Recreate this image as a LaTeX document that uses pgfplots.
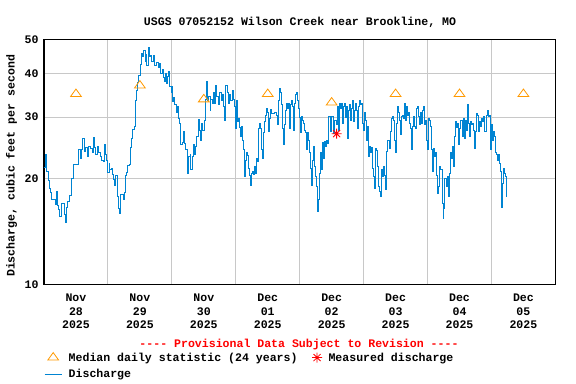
\documentclass[border=0pt]{standalone}
\usepackage{fontspec}
\setmainfont{Liberation Mono}
\setmonofont{Liberation Mono}
\usepackage{pgfplots}
\pgfplotsset{compat=1.18}
\definecolor{usgsblue}{RGB}{0,132,210}
\definecolor{usgsorange}{RGB}{255,153,0}
\definecolor{gridgray}{RGB}{200,200,200}
\newcommand{\cf}{\fontsize{11.6}{13.5}\selectfont\ttfamily\bfseries}
\pgfdeclareplotmark{star8}{%
  \pgfpathmoveto{\pgfqpoint{-\pgfplotmarksize}{0pt}}\pgfpathlineto{\pgfqpoint{\pgfplotmarksize}{0pt}}%
  \pgfpathmoveto{\pgfqpoint{0pt}{-\pgfplotmarksize}}\pgfpathlineto{\pgfqpoint{0pt}{\pgfplotmarksize}}%
  \pgfpathmoveto{\pgfqpoint{-0.707\pgfplotmarksize}{-0.707\pgfplotmarksize}}\pgfpathlineto{\pgfqpoint{0.707\pgfplotmarksize}{0.707\pgfplotmarksize}}%
  \pgfpathmoveto{\pgfqpoint{-0.707\pgfplotmarksize}{0.707\pgfplotmarksize}}\pgfpathlineto{\pgfqpoint{0.707\pgfplotmarksize}{-0.707\pgfplotmarksize}}%
  \pgfusepathqstroke}
\pgfplotstableread{
day q
0.000 21.5
0.016 21.7
0.031 23.4
0.042 21.0
0.063 20.7
0.078 19.8
0.089 18.8
0.109 18.3
0.125 17.5
0.161 17.5
0.177 16.9
0.198 18.4
0.214 16.8
0.230 16.3
0.250 15.6
0.271 17.0
0.292 17.0
0.313 15.8
0.334 15.0
0.354 16.6
0.375 17.2
0.401 17.9
0.427 18.0
0.438 20.1
0.454 22.0
0.521 22.0
0.532 24.3
0.552 24.2
0.574 22.9
0.594 24.2
0.605 26.1
0.626 23.9
0.652 24.6
0.673 23.2
0.693 24.8
0.730 24.4
0.751 23.7
0.771 26.3
0.793 24.6
0.813 23.4
0.834 24.8
0.855 23.8
0.881 23.2
0.907 22.6
0.928 22.4
0.944 25.0
0.965 23.4
0.985 22.6
1.001 20.8
1.017 22.1
1.032 21.2
1.053 21.4
1.068 20.6
1.084 19.9
1.100 19.2
1.121 20.5
1.142 19.1
1.157 17.8
1.168 16.5
1.178 15.9
1.194 18.0
1.231 18.0
1.251 17.5
1.267 18.3
1.278 20.5
1.298 20.8
1.314 21.8
1.340 21.9
1.356 24.6
1.372 26.1
1.387 27.7
1.413 28.2
1.428 33.4
1.444 35.8
1.460 37.7
1.475 39.3
1.502 39.5
1.517 42.5
1.528 45.4
1.544 44.6
1.560 46.3
1.580 43.3
1.596 45.1
1.611 42.0
1.632 45.6
1.642 47.4
1.653 44.6
1.663 44.9
1.684 43.3
1.710 44.9
1.736 42.0
1.763 43.0
1.788 41.6
1.810 42.7
1.830 40.0
1.851 40.9
1.866 39.0
1.882 37.9
1.897 40.0
1.913 37.3
1.935 39.1
1.950 40.4
1.966 36.6
1.991 35.2
2.007 36.6
2.018 33.2
2.033 34.1
2.049 32.5
2.070 31.0
2.085 32.1
2.101 29.8
2.117 28.7
2.132 26.4
2.143 25.0
2.164 25.3
2.185 27.3
2.201 25.2
2.221 24.2
2.242 23.4
2.252 20.7
2.268 23.2
2.284 23.4
2.299 21.2
2.320 23.2
2.336 25.0
2.357 23.4
2.372 24.7
2.393 26.4
2.414 29.6
2.429 27.4
2.445 25.8
2.466 28.8
2.487 27.4
2.503 29.4
2.523 33.6
2.545 37.9
2.561 33.4
2.581 34.4
2.597 31.4
2.612 33.6
2.633 32.9
2.649 35.2
2.670 32.9
2.690 37.0
2.706 34.4
2.727 32.5
2.748 35.2
2.769 33.4
2.789 34.7
2.811 32.1
2.831 29.3
2.847 37.0
2.863 35.2
2.883 32.9
2.905 34.7
2.925 33.4
2.941 35.8
2.961 33.6
2.977 32.1
2.992 27.9
3.008 33.4
3.024 29.1
3.039 29.8
3.061 28.1
3.077 26.4
3.092 28.2
3.108 25.8
3.124 24.2
3.139 20.3
3.149 22.6
3.165 23.7
3.180 23.3
3.202 21.4
3.222 20.5
3.233 19.2
3.249 20.7
3.269 21.0
3.285 20.6
3.296 21.7
3.311 20.7
3.327 22.9
3.343 22.4
3.358 27.9
3.374 28.8
3.390 27.9
3.405 24.2
3.415 22.8
3.431 27.1
3.446 29.1
3.462 30.4
3.477 31.8
3.493 30.9
3.509 27.2
3.524 29.8
3.546 31.6
3.561 30.8
3.613 31.0
3.639 30.4
3.655 28.5
3.671 33.4
3.681 36.2
3.696 35.2
3.712 32.5
3.728 27.9
3.743 25.0
3.759 28.5
3.774 31.4
3.790 32.9
3.806 31.8
3.821 32.9
3.837 27.9
3.853 32.5
3.868 33.4
3.884 32.1
3.900 27.5
3.915 32.9
3.931 34.7
3.947 35.2
3.962 33.4
3.978 31.8
3.993 30.0
4.009 27.1
4.025 30.1
4.040 29.4
4.056 28.8
4.072 27.5
4.087 27.1
4.103 24.2
4.119 27.1
4.134 25.8
4.150 23.7
4.166 21.4
4.181 20.7
4.192 19.2
4.208 22.6
4.223 24.7
4.239 21.7
4.255 20.3
4.270 19.0
4.286 16.1
4.297 17.4
4.312 20.7
4.328 23.7
4.344 21.2
4.359 25.3
4.375 22.9
4.391 25.6
4.406 24.7
4.422 25.8
4.438 25.2
4.453 30.1
4.474 30.1
4.489 27.3
4.505 30.1
4.521 28.2
4.536 26.9
4.552 29.4
4.568 28.5
4.588 32.1
4.604 27.5
4.619 32.9
4.641 31.8
4.657 32.9
4.672 28.8
4.688 32.1
4.704 32.9
4.719 30.0
4.735 32.1
4.751 26.1
4.766 31.4
4.782 32.5
4.797 29.4
4.813 31.8
4.829 33.4
4.844 29.1
4.860 31.4
4.876 32.9
4.891 31.4
4.907 27.9
4.923 32.1
4.938 33.4
4.948 32.5
4.969 32.9
4.979 28.8
5.001 27.5
5.021 31.0
5.037 29.4
5.052 25.8
5.063 28.2
5.079 23.2
5.095 24.7
5.110 23.7
5.126 24.6
5.142 21.4
5.157 20.3
5.167 18.8
5.183 24.4
5.198 24.1
5.214 21.7
5.230 19.0
5.245 18.4
5.261 17.8
5.276 21.2
5.292 20.3
5.308 21.7
5.323 20.5
5.339 18.6
5.355 23.9
5.370 25.8
5.386 25.8
5.402 24.4
5.417 27.3
5.433 29.8
5.454 30.1
5.470 29.4
5.486 25.8
5.501 23.7
5.517 28.8
5.533 32.1
5.548 31.0
5.564 29.4
5.580 26.7
5.595 30.1
5.611 30.4
5.627 29.8
5.642 32.9
5.658 29.4
5.674 32.1
5.689 30.4
5.705 31.0
5.720 28.8
5.736 27.9
5.752 24.2
5.767 28.2
5.783 30.1
5.799 28.2
5.814 27.9
5.830 31.8
5.846 32.1
5.861 30.1
5.877 28.5
5.893 31.0
5.908 28.8
5.924 31.4
5.940 32.1
5.955 28.5
5.971 29.4
5.981 25.8
5.997 24.2
6.012 29.8
6.028 29.4
6.043 28.2
6.059 24.2
6.075 21.0
6.090 24.4
6.106 23.2
6.121 23.7
6.137 20.5
6.153 18.2
6.168 19.0
6.184 21.7
6.199 21.2
6.215 21.2
6.230 17.0
6.246 15.4
6.257 16.5
6.272 20.1
6.288 20.1
6.304 19.0
6.319 20.3
6.335 17.8
6.351 20.7
6.366 23.7
6.382 22.9
6.398 24.7
6.413 21.7
6.429 26.4
6.444 29.1
6.460 28.1
6.476 28.8
6.491 25.0
6.507 27.9
6.523 29.4
6.538 29.4
6.554 26.4
6.570 29.8
6.585 26.1
6.596 29.4
6.612 27.5
6.628 32.5
6.643 28.8
6.659 26.4
6.675 29.1
6.690 28.5
6.706 28.8
6.721 27.5
6.737 24.4
6.753 27.3
6.768 30.8
6.784 30.4
6.800 27.3
6.815 29.1
6.831 28.2
6.846 29.8
6.862 29.1
6.878 30.1
6.893 27.3
6.909 27.3
6.925 30.4
6.940 31.4
6.956 30.1
6.972 30.4
6.987 24.2
7.003 28.5
7.019 25.8
7.034 27.3
7.050 26.4
7.066 23.7
7.081 23.4
7.097 22.6
7.112 23.4
7.128 22.1
7.144 21.0
7.154 19.0
7.164 16.6
7.175 19.4
7.191 21.4
7.206 20.7
7.222 20.3
7.238 17.8
}\discharge
\begin{document}
\begin{tikzpicture}
\useasboundingbox (0,0) rectangle (576bp,384bp);
\begin{axis}[
  at={(44bp,99.7bp)}, anchor=south west,
  scale only axis, width=511.4bp, height=245bp,
  xmin=0, xmax=8,
  ymode=log, ymin=10, ymax=50,
  ytick={10,20,30,40,50}, yticklabels={10,20,30,40,50},
  xtick={0.5,1.5,2.5,3.5,4.5,5.5,6.5,7.5},
  xticklabels={{Nov\\28\\2025},{Nov\\29\\2025},{Nov\\30\\2025},{Dec\\01\\2025},{Dec\\02\\2025},{Dec\\03\\2025},{Dec\\04\\2025},{Dec\\05\\2025}},
  minor xtick={1,2,3,4,5,6,7},
  xminorgrids=true, ymajorgrids=true, xmajorgrids=false,
  major tick length=0pt, minor tick length=0pt,
  grid style={gridgray, line width=1bp},
  minor grid style={gridgray, line width=1bp},
  axis line style={black, line width=1.4bp},
  /pgf/number format/assume math mode=true,
  xticklabel style={align=center, font=\cf, yshift=-6.5bp},
  yticklabel style={font=\cf, xshift=-2bp},
  title={USGS 07052152 Wilson Creek near Brookline, MO},
  every axis title/.style={at={(axis description cs:0.5006,1.0706)}, anchor=center, font=\cf},
  ylabel={Discharge, cubic feet per second},
  every axis y label/.style={at={(axis description cs:-0.0636,0.483)}, rotate=90, anchor=center, font=\cf},
  legend style={draw=none, fill=none, at={(axis description cs:0.000,-0.270)}, anchor=north west,
    font=\cf, inner xsep=0pt, inner ysep=0pt, row sep=3bp,
    /tikz/every odd column/.append style={column sep=4.5bp},
    /tikz/every even column/.append style={column sep=12.5bp}},
  legend columns=2, legend cell align=left,
]
\addplot[usgsblue, line width=1bp, const plot, forget plot] table[x=day, y=q] {\discharge};
\addplot[only marks, mark=triangle, mark size=5bp, mark options={xscale=1.25, line width=0.8bp, usgsorange}, forget plot]
  coordinates {(0.5,34.9) (1.5,36.9) (2.5,33.7) (3.5,34.9) (4.5,33.0) (5.5,34.9) (6.5,34.9) (7.5,34.9)};
\addplot[only marks, mark=star8, mark size=5bp, red, line width=0.8bp, forget plot]
  coordinates {(4.578,26.9)};
\addlegendimage{only marks, mark=triangle, mark size=5bp, mark options={xscale=1.25, line width=0.8bp, usgsorange}}
\addlegendentry{Median daily statistic (24 years)}
\addlegendimage{only marks, mark=star8, mark size=5bp, red, line width=0.8bp}
\addlegendentry{Measured discharge}
\addlegendimage{usgsblue, line width=1bp}
\addlegendentry{Discharge}
\end{axis}
\node[font=\cf, text=red, anchor=base] at (299bp,36.7bp) {---- Provisional Data Subject to Revision ----};
\end{tikzpicture}
\end{document}
